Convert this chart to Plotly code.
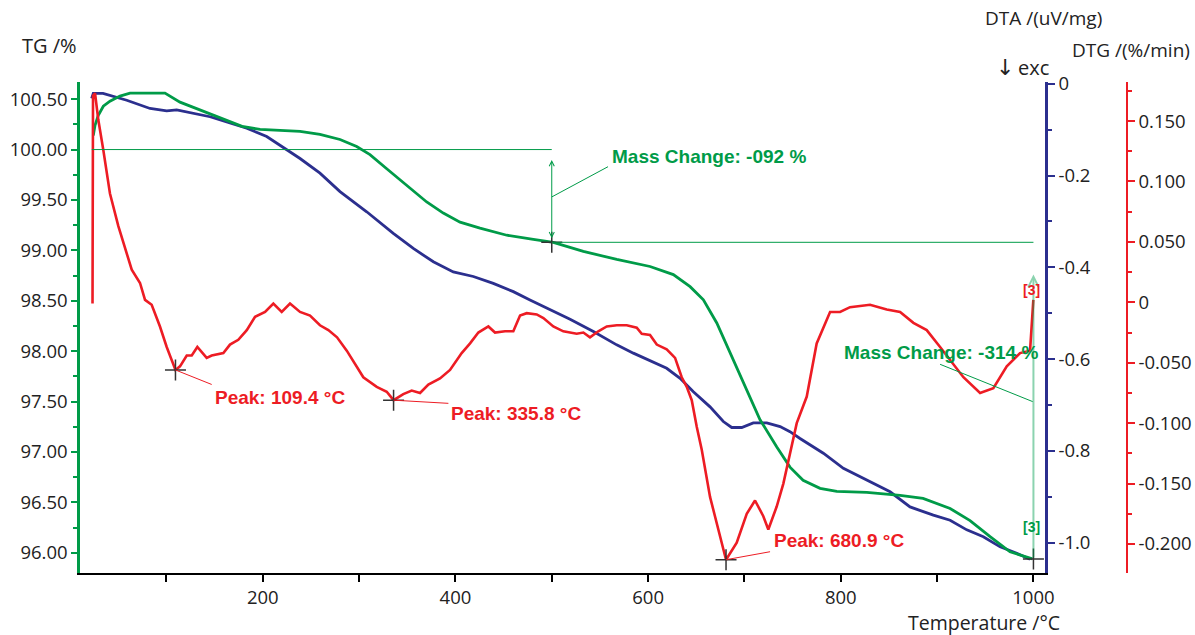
import plotly.graph_objects as go

# ---------------- data ----------------
# TG curve (green, left axis, %)
T_TG = [24.1, 25.9, 29.3, 34.5, 41.4, 51.8, 62.2, 98.5, 114.1, 138.0, 162.9, 178.5, 197.2, 217.9,
        238.7, 259.4, 280.2, 297.5, 311.3, 328.7, 349.4, 370.2, 387.4, 404.8, 425.5, 453.3, 480.9,
        501.6, 532.8, 567.5, 602.0, 626.2, 643.6, 657.4, 671.3, 685.1, 698.9, 716.2, 733.6, 747.3,
        760.9, 778.5, 795.9, 827.0, 861.6, 885.4, 913.5, 934.2, 955.0, 975.7, 999.0]
TG = [100.14, 100.24, 100.34, 100.43, 100.48, 100.53, 100.56, 100.56, 100.47, 100.38, 100.29, 100.23,
      100.20, 100.19, 100.18, 100.15, 100.10, 100.03, 99.95, 99.81, 99.65, 99.48, 99.37, 99.28, 99.22,
      99.15, 99.11, 99.08, 98.99, 98.91, 98.84, 98.76, 98.64, 98.51, 98.28, 97.98, 97.68, 97.32, 97.05,
      96.85, 96.72, 96.64, 96.61, 96.60, 96.57, 96.54, 96.44, 96.32, 96.16, 96.01, 95.94]

# DTA curve (blue, uV/mg)
T_DTA = [22.4, 24.1, 34.2, 58.8, 83.0, 100.3, 110.7, 127.9, 145.3, 162.6, 183.4, 204.1, 224.9, 238.7,
         259.4, 280.2, 307.9, 335.5, 356.3, 377.1, 397.8, 418.6, 439.3, 460.1, 477.4, 498.2, 519.0,
         543.2, 567.4, 584.7, 602.0, 619.3, 633.2, 647.0, 664.3, 678.1, 686.8, 697.2, 709.2, 723.2,
         737.0, 747.3, 757.7, 781.9, 802.7, 827.0, 851.2, 871.9, 896.1, 913.5, 930.8, 948.0, 965.4,
         982.7, 996.5]
DTA = [-0.032, -0.021, -0.021, -0.036, -0.054, -0.059, -0.057, -0.064, -0.072, -0.083, -0.097, -0.115,
       -0.144, -0.163, -0.195, -0.235, -0.279, -0.326, -0.359, -0.388, -0.410, -0.420, -0.435, -0.453,
       -0.471, -0.492, -0.513, -0.540, -0.569, -0.587, -0.603, -0.620, -0.642, -0.671, -0.704, -0.736,
       -0.749, -0.749, -0.739, -0.739, -0.747, -0.758, -0.773, -0.805, -0.838, -0.863, -0.889, -0.922,
       -0.940, -0.951, -0.972, -0.987, -1.009, -1.023, -1.036]

# DTG curve (red, %/min)
T_DTG = [23.3, 23.8, 25.9, 29.3, 34.5, 41.4, 50.1, 60.4, 64.0, 72.6,
         77.8, 84.7, 93.3, 100.3, 109.4, 114.1, 121.1, 126.3, 132.1, 141.8,
         147.0, 159.1, 166.0, 174.6, 183.4, 192.0, 202.4, 211.0, 219.7, 228.3,
         238.7, 249.1, 259.4, 268.1, 277.1, 287.2, 297.5, 304.4, 318.3, 328.7,
         335.8, 345.9, 354.6, 363.3, 371.9, 384.0, 394.4, 406.5, 415.2, 423.8,
         434.2, 441.1, 451.5, 460.1, 467.1, 474.0, 484.4, 491.3, 501.6, 512.0,
         525.9, 532.8, 539.7, 548.3, 557.1, 567.5, 577.8, 588.2, 593.4, 602.0,
         609.0, 619.3, 628.0, 634.9, 640.1, 645.3, 650.5, 655.7, 664.3, 672.9,
         680.9, 692.0, 702.4, 711.0, 719.6, 724.8, 733.5, 740.4, 747.3, 754.3,
         764.7, 775.0, 788.9, 799.3, 809.6, 830.4, 847.7, 861.6, 875.4, 889.2,
         903.1, 916.9, 927.3, 944.6, 958.4, 972.3, 986.1, 996.5, 998.2, 999.9]
DTG = [-0.001, 0.171, 0.173, 0.151, 0.126, 0.090, 0.063, 0.035, 0.027, 0.016,
       0.002, -0.002, -0.020, -0.037, -0.056, -0.053, -0.044, -0.044, -0.037, -0.046,
       -0.044, -0.042, -0.035, -0.031, -0.023, -0.012, -0.008, -0.001, -0.008, -0.001,
       -0.008, -0.011, -0.019, -0.023, -0.029, -0.040, -0.053, -0.062, -0.070, -0.074,
       -0.081, -0.076, -0.073, -0.075, -0.068, -0.063, -0.056, -0.042, -0.034, -0.025,
       -0.020, -0.025, -0.024, -0.024, -0.011, -0.009, -0.010, -0.013, -0.020, -0.024,
       -0.026, -0.025, -0.029, -0.024, -0.020, -0.019, -0.019, -0.021, -0.026, -0.027,
       -0.035, -0.039, -0.046, -0.062, -0.070, -0.081, -0.103, -0.122, -0.161, -0.188,
       -0.213, -0.199, -0.175, -0.164, -0.177, -0.188, -0.169, -0.150, -0.125, -0.100,
       -0.078, -0.034, -0.008, -0.008, -0.004, -0.002, -0.006, -0.008, -0.017, -0.023,
       -0.037, -0.051, -0.062, -0.075, -0.071, -0.053, -0.042, -0.040, -0.017, 0.002]

# DTG peaks
PEAK_T = [109.4, 335.8, 680.9]
PEAK_DTG = [-0.056, -0.081, -0.213]
PEAK_LABELS = ["Peak: 109.4 °C", "Peak: 335.8 °C", "Peak: 680.9 °C"]

# Mass-change evaluation (TG)
MC_T = [500, 1000]
MC_TG_START = 100.00
MC_TG = [99.08, 95.94]
MC_LABELS = ["Mass Change: -092 %", "Mass Change: -314 %"]

# tick labels
DTA_TICKS = [0, -0.2, -0.4, -0.6, -0.8, -1.0]
DTA_TICKTEXT = ["0", "-0.2", "-0.4", "-0.6", "-0.8", "-1.0"]
DTA_MINOR = [-0.1, -0.3, -0.5, -0.7, -0.9]
DTG_TICKS = [0.15, 0.10, 0.05, 0, -0.05, -0.10, -0.15, -0.20]
DTG_TICKTEXT = ["0.150", "0.100", "0.050", "0", "-0.050", "-0.100", "-0.150", "-0.200"]
DTG_MINOR = [0.175, 0.125, 0.075, 0.025, -0.025, -0.075, -0.125, -0.175]

# ---------------- styling ----------------
GREEN = "#009B48"
BLUE = "#2B2F8E"
RED = "#ED1C24"
TICKFONT = dict(family="Open Sans", size=18.5, color="#222222")
LBLFONT = "Liberation Sans"

W, H = 1195, 635
ML, MR, MT, MB = 80, 40, 82, 62
PW = W - ML - MR
PH = H - MT - MB
XD = 965 / PW                 # x-axis domain end (DTA axis position)
DTG_POS = (1127 - ML) / PW    # free DTG axis position


def px(xp):
    return (xp - ML) / PW


def py(yp):
    return (H - MB - yp) / PH


fig = go.Figure()
fig.add_trace(go.Scatter(x=T_DTA, y=DTA, yaxis="y", mode="lines",
                         line=dict(color=BLUE, width=2.8), showlegend=False, hoverinfo="skip"))
fig.add_trace(go.Scatter(x=T_TG, y=TG, yaxis="y2", mode="lines",
                         line=dict(color=GREEN, width=2.8), showlegend=False, hoverinfo="skip"))
fig.add_trace(go.Scatter(x=T_DTG, y=DTG, yaxis="y3", mode="lines",
                         line=dict(color=RED, width=2.6), showlegend=False, hoverinfo="skip"))

# markers (crosses)
fig.add_trace(go.Scatter(x=PEAK_T, y=PEAK_DTG, yaxis="y3", mode="markers",
                         marker=dict(symbol="cross-thin", size=15, line=dict(color="#333333", width=1.5)),
                         showlegend=False, hoverinfo="skip"))
fig.add_trace(go.Scatter(x=MC_T, y=MC_TG, yaxis="y2", mode="markers",
                         marker=dict(symbol="cross-thin", size=15, line=dict(color="#333333", width=1.5)),
                         showlegend=False, hoverinfo="skip"))

shapes = []
annotations = []

# Peak connectors and labels
peak_line_end = [(147.0, -0.068), (392.7, -0.0836), (726.6, -0.2064)]
peak_text_pos = [(148.4, -0.0784), (393.4, -0.0924), (728.7, -0.1975)]
for t, v, (ex, ey), (tx, ty), lab in zip(PEAK_T, PEAK_DTG, peak_line_end, peak_text_pos, PEAK_LABELS):
    shapes.append(dict(type="line", xref="x", yref="y3", x0=t, y0=v, x1=ex, y1=ey,
                       line=dict(color=RED, width=1)))
    annotations.append(dict(x=tx, y=ty, xref="x", yref="y3", text=lab, showarrow=False,
                            xanchor="left", yanchor="middle",
                            font=dict(family=LBLFONT, size=19, color=RED, weight="bold")))

# Mass change 1
shapes.append(dict(type="line", xref="x", yref="y2", x0=22.5, x1=MC_T[0], y0=MC_TG_START, y1=MC_TG_START,
                   line=dict(color=GREEN, width=1)))
shapes.append(dict(type="line", xref="x", yref="y2", x0=MC_T[0], x1=MC_T[1], y0=MC_TG[0], y1=MC_TG[0],
                   line=dict(color=GREEN, width=1)))
annotations.append(dict(x=MC_T[0], y=MC_TG[0] + 0.04, ax=MC_T[0], ay=MC_TG_START - 0.09,
                        xref="x", yref="y2", axref="x", ayref="y2", text="", showarrow=True,
                        arrowhead=5, startarrowhead=5, arrowside="end+start", arrowsize=1,
                        arrowwidth=1, arrowcolor=GREEN, standoff=0, startstandoff=0))
shapes.append(dict(type="line", xref="x", yref="y2", x0=MC_T[0], y0=99.53, x1=558.4, y1=99.83,
                   line=dict(color=GREEN, width=1)))
annotations.append(dict(x=560.5, y=99.93, xref="x", yref="y2", text=MC_LABELS[0], showarrow=False,
                        xanchor="left", yanchor="middle",
                        font=dict(family=LBLFONT, size=19, color=GREEN, weight="bold")))

# Mass change 2
annotations.append(dict(x=MC_T[1], y=98.76, ax=MC_T[1], ay=MC_TG[1],
                        xref="x", yref="y2", axref="x", ayref="y2", text="", showarrow=True,
                        arrowhead=5, arrowsize=1, arrowwidth=2,
                        arrowcolor="rgba(0,160,80,0.45)", standoff=0))
shapes.append(dict(type="line", xref="x", yref="y2", x0=999.2, y0=97.50, x1=903.1, y1=97.87,
                   line=dict(color=GREEN, width=1)))
annotations.append(dict(x=1007, y=97.99, xref="x", yref="y2", text=MC_LABELS[1], showarrow=False,
                        xanchor="right", yanchor="middle",
                        font=dict(family=LBLFONT, size=19, color=GREEN, weight="bold")))

# [3] labels
annotations.append(dict(x=997.9, y=0.0102, xref="x", yref="y3", text="[3]", showarrow=False,
                        font=dict(family=LBLFONT, size=14, color=RED, weight="bold")))
annotations.append(dict(x=997.9, y=96.26, xref="x", yref="y2", text="[3]", showarrow=False,
                        font=dict(family=LBLFONT, size=14, color=GREEN, weight="bold")))

# Axis titles
AXFONT = dict(family="Open Sans", size=19, color="#222222")
annotations += [
    dict(x=px(20), y=py(45), xref="paper", yref="paper", text="TG /%", showarrow=False,
         xanchor="left", yanchor="middle", font=dict(family="Open Sans", size=20, color="#222222")),
    dict(x=px(983), y=py(18), xref="paper", yref="paper", text="DTA /(uV/mg)", showarrow=False,
         xanchor="left", yanchor="middle", font=AXFONT),
    dict(x=px(1070), y=py(50), xref="paper", yref="paper", text="DTG /(%/min)", showarrow=False,
         xanchor="left", yanchor="middle", font=AXFONT),
    dict(x=px(994), y=py(67), xref="paper", yref="paper", text="↓", showarrow=False,
         xanchor="left", yanchor="middle",
         font=dict(family="DejaVu Sans", size=22, color="#222222")),
    dict(x=px(1016), y=py(67), xref="paper", yref="paper", text="exc", showarrow=False,
         xanchor="left", yanchor="middle", font=dict(family="Open Sans", size=20, color="#222222")),
    dict(x=px(906), y=py(622), xref="paper", yref="paper", text="Temperature /°C", showarrow=False,
         xanchor="left", yanchor="middle", font=dict(family="Open Sans", size=19.5, color="#222222")),
]

fig.update_layout(
    width=W, height=H,
    margin=dict(l=ML, r=MR, t=MT, b=MB, pad=0, autoexpand=False),
    plot_bgcolor="white", paper_bgcolor="white",
    showlegend=False,
    xaxis=dict(domain=[0, XD], range=[10.3, 1012], tick0=0, dtick=200, automargin=False,
               ticks="outside", ticklen=7, tickwidth=1.5, tickcolor="black",
               showline=True, linecolor="black", linewidth=2,
               showgrid=False, zeroline=False, tickfont=TICKFONT,
               minor=dict(dtick=100, tick0=0, ticks="outside", ticklen=7, tickwidth=1.5,
                          tickcolor="black", showgrid=False)),
    yaxis=dict(side="right", anchor="x", range=[-1.066, 0.0037], automargin=False,
               tickmode="array", tickvals=DTA_TICKS, ticktext=DTA_TICKTEXT,
               ticks="outside", ticklen=7, tickwidth=2, tickcolor=BLUE,
               showline=True, linecolor=BLUE, linewidth=2.5,
               showgrid=False, zeroline=False, tickfont=TICKFONT,
               minor=dict(tickmode="array", tickvals=DTA_MINOR, ticks="outside", ticklen=4,
                          tickwidth=2, tickcolor=BLUE, showgrid=False)),
    yaxis2=dict(overlaying="y", side="left", anchor="x", range=[95.80, 100.67], automargin=False,
                tick0=96, dtick=0.5, tickformat=".2f",
                ticks="outside", ticklen=6, tickwidth=2, tickcolor=GREEN,
                showline=True, linecolor=GREEN, linewidth=2.5,
                showgrid=False, zeroline=False, tickfont=TICKFONT,
                minor=dict(dtick=0.25, tick0=96, ticks="outside", ticklen=4, tickwidth=2,
                           tickcolor=GREEN, showgrid=False)),
    yaxis3=dict(overlaying="y", side="right", anchor="free", position=DTG_POS, automargin=False,
                range=[-0.224, 0.1823],
                tickmode="array", tickvals=DTG_TICKS, ticktext=DTG_TICKTEXT,
                ticks="outside", ticklen=7, tickwidth=1.5, tickcolor=RED,
                showline=True, linecolor=RED, linewidth=1.5,
                showgrid=False, zeroline=False, tickfont=TICKFONT,
                minor=dict(tickmode="array", tickvals=DTG_MINOR, ticks="outside", ticklen=4,
                           tickwidth=1.5, tickcolor=RED, showgrid=False)),
    shapes=shapes,
    annotations=annotations,
)

fig.write_html("out.html")
